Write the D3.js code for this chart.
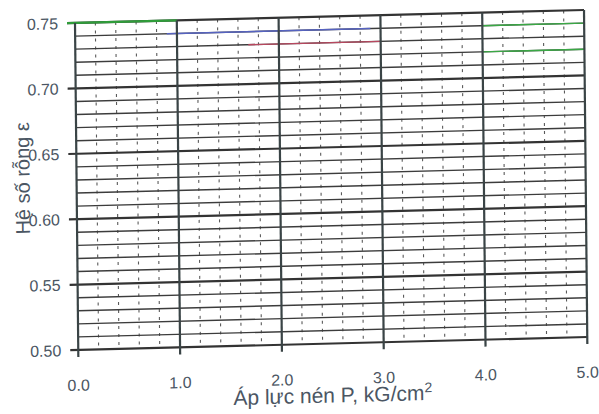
<!DOCTYPE html>
<html>
<head>
<meta charset="utf-8">
<script src="https://cdn.jsdelivr.net/npm/d3@7"></script>
<style>
  html, body { margin: 0; padding: 0; background: #ffffff; }
  svg { display: block; }
  text { font-family: "Liberation Sans", Arial, sans-serif; }
</style>
</head>
<body>
<div id="chart"></div>
<script>
// Void ratio vs. compression pressure: blank working grid
const xMajorTicks = [0, 1, 2, 3, 4, 5];
const xTickLabels = ["0.0", "1.0", "2.0", "3.0", "4.0", "5.0"];
const yMajorTicks = [0.50, 0.55, 0.60, 0.65, 0.70, 0.75];
const yTickLabels = ["0.50", "0.55", "0.60", "0.65", "0.70", "0.75"];
const xMinorStep = 0.2;
const yMinorStep = 0.01;
const xTitle = "Áp lực nén P, kG/cm";
const yTitle = "Hệ số rỗng ε";

const W = 599, H = 414;
const margin = { left: 75, right: 15, top: 23, bottom: 64 };

const svg = d3.select("#chart").append("svg")
  .attr("width", W).attr("height", H);

svg.append("rect").attr("width", W).attr("height", H).attr("fill", "#ffffff");

const x = d3.scaleLinear().domain([0, 5]).range([margin.left, W - margin.right]);
const y = d3.scaleLinear().domain([0.50, 0.75]).range([H - margin.bottom, margin.top]);

// the sheet sits slightly askew: lines rise to the right, columns lean a bit
const px = margin.left, py = margin.top;
const g = svg.append("g")
  .attr("transform", `translate(${px},${py}) matrix(1,-0.0255,0.010,1,0,0) translate(${-px},${-py})`);

const x0 = x(0), x1 = x(5), y0 = y(0.75), y1 = y(0.50);

// minor verticals (broken lines)
const xMinor = d3.range(0, 5 + 1e-9, xMinorStep)
  .filter(v => Math.abs(v - Math.round(v)) > 1e-6);
g.append("g").selectAll("line").data(xMinor).join("line")
  .attr("x1", d => x(d)).attr("x2", d => x(d))
  .attr("y1", y0).attr("y2", y1)
  .attr("stroke", "#5a5a5a").attr("stroke-width", 1.1)
  .attr("stroke-dasharray", "3,5");

// minor horizontals
const yMinor = d3.range(0.50, 0.75 + 1e-9, yMinorStep)
  .filter(v => Math.abs(v * 20 - Math.round(v * 20)) > 1e-6);
g.append("g").selectAll("line").data(yMinor).join("line")
  .attr("x1", x0).attr("x2", x1)
  .attr("y1", d => y(d)).attr("y2", d => y(d))
  .attr("stroke", "#3c3c3c").attr("stroke-width", 1.4);

// colour fringes along a few printed rules
const tints = [
  { v: 0.74, a: 0.9, b: 2.9, c: "#5663c0" },
  { v: 0.73, a: 1.7, b: 3.0, c: "#b8485f" },
  { v: 0.74, a: 4.0, b: 5.0, c: "#3aa845" },
  { v: 0.72, a: 4.0, b: 5.0, c: "#3aa845" }
];
g.append("g").selectAll("line").data(tints).join("line")
  .attr("x1", d => x(d.a)).attr("x2", d => x(d.b))
  .attr("y1", d => y(d.v)).attr("y2", d => y(d.v))
  .attr("stroke", d => d.c).attr("stroke-width", 1.4);

// major horizontals, extending past the left edge as ticks
g.append("g").selectAll("line").data(yMajorTicks).join("line")
  .attr("x1", x0 - 8).attr("x2", x1)
  .attr("y1", d => y(d)).attr("y2", d => y(d))
  .attr("stroke", "#333333").attr("stroke-width", 2.2);

// top rule has a green tint at the start
g.append("line")
  .attr("x1", x0 - 8).attr("x2", x(1))
  .attr("y1", y(0.75)).attr("y2", y(0.75))
  .attr("stroke", "#2f9c3a").attr("stroke-width", 2.2);

// major verticals, extending below the bottom edge as ticks
g.append("g").selectAll("line").data(xMajorTicks).join("line")
  .attr("x1", d => x(d)).attr("x2", d => x(d))
  .attr("y1", y0).attr("y2", y1 + 7)
  .attr("stroke", "#3a4446").attr("stroke-width", 2.2);

const labelColor = "#4b5663";

// y tick labels
g.append("g").selectAll("text").data(yMajorTicks).join("text")
  .attr("x", x0 - 17)
  .attr("y", d => y(d))
  .attr("dy", "0.36em")
  .attr("text-anchor", "end")
  .attr("font-size", 16)
  .attr("fill", labelColor)
  .text((d, i) => yTickLabels[i]);

// x tick labels
g.append("g").selectAll("text").data(xMajorTicks).join("text")
  .attr("x", d => x(d))
  .attr("y", y1 + 35)
  .attr("dy", "0.36em")
  .attr("text-anchor", "middle")
  .attr("font-size", 16)
  .attr("fill", labelColor)
  .text((d, i) => xTickLabels[i]);

// axis titles
const xt = g.append("text")
  .attr("x", 329).attr("y", 409)
  .attr("text-anchor", "middle")
  .attr("font-size", 21)
  .attr("fill", labelColor);
xt.append("tspan").text(xTitle);
xt.append("tspan").attr("dy", -8).attr("font-size", 14).text("2");

g.append("text")
  .attr("transform", "translate(28,177) rotate(-90)")
  .attr("text-anchor", "middle")
  .attr("font-size", 20)
  .attr("fill", labelColor)
  .text(yTitle);
</script>
</body>
</html>
